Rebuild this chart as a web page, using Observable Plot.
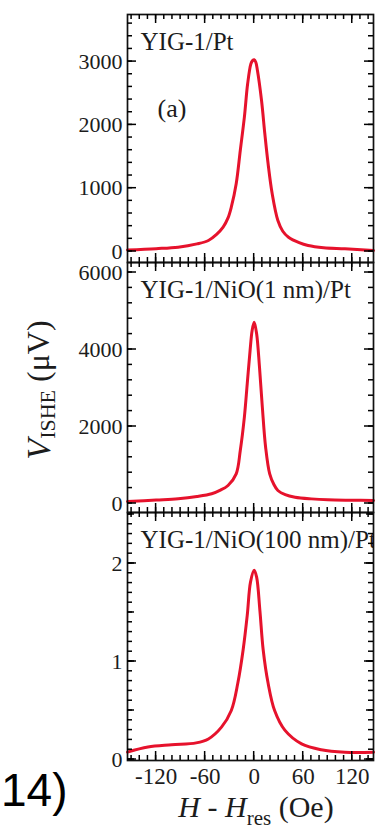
<!DOCTYPE html>
<html><head><meta charset="utf-8">
<script src="https://cdn.jsdelivr.net/npm/d3@7"></script>
<script src="https://cdn.jsdelivr.net/npm/@observablehq/plot@0.6"></script>
<style>
html,body{margin:0;padding:0;background:#fff;}
#chart{position:relative;width:376px;height:837px;overflow:hidden;background:#fff;}
#chart svg{position:absolute;left:0;overflow:visible;background:transparent;}
</style></head><body><div id="chart"></div>
<script>
// ---- data ----
const panelTitles = ["YIG-1/Pt", "YIG-1/NiO(1 nm)/Pt", "YIG-1/NiO(100 nm)/Pt"];
const panelLetter = "(a)";
const sideNote = "14)";

// panel 1: YIG-1/Pt, V_ISHE in µV
const fieldPt = [-155,-120,-93,-70,-56,-46,-38,-32,-28,-22,-17,-12,-8,-4,-2,0,2,4,9,13,17,22,29,35,42,55,66,85,111,146];
const vPt     = [25,45,68,120,174,270,384,530,700,1070,1596,2122,2649,2965,3015,3030,2990,2859,2385,1864,1390,916,490,320,226,140,95,60,43,16];

// panel 2: YIG-1/NiO(1 nm)/Pt, µV
const fieldNiO1 = [-155,-120,-93,-70,-52,-42,-32,-22,-17,-12,-8.5,-5,-2.5,0,3,6.5,10,14,19,24,29,38,50,70,90,120,146];
const vNiO1     = [52,90,122,180,252,340,468,771,1377,2242,3109,3974,4494,4710,4410,3540,2500,1462,771,500,338,230,164,120,96,85,78];

// panel 3: YIG-1/NiO(100 nm)/Pt, µV
const fieldNiO100 = [-155,-130,-101,-71,-56,-40,-28,-20,-13.5,-8.5,-4.5,0,3,7,11,17,25,37.5,58,82,111,146];
const vNiO100     = [0.075,0.127,0.15,0.17,0.21,0.33,0.5,0.78,1.12,1.47,1.81,1.93,1.86,1.52,1.12,0.78,0.5,0.30,0.16,0.10,0.075,0.075];

// ticks
const yTicksPt = [0, 1000, 2000, 3000];
const yTicksNiO1 = [0, 2000, 4000, 6000];
const yTicksNiO100 = [0, 1, 2];
const xTicks = [-120, -60, 0, 60, 120];
const xTickLabels = ["-120", "-60", "0", "60", "120"];

// axis titles
const xTitleParts = ["H", " - ", "H", "res", " (Oe)"];
const yTitleParts = ["V", "ISHE", " (μV)"];

// ---- layout / style ----
const W = 376;
const ML = 127, MR = 3;
const serif = "'Liberation Serif', 'Times New Roman', serif";
const red = "#e6122c";
const ink = "#1c1c1c";
const xDomain = [-155, 146];
const minorRange = (lo, hi, step) => d3.range(Math.ceil(lo / step) * step, hi + 1e-9, step);

function panel({field, values, yDomain, yTicks, title, letter, height, marginTop, marginBottom, xAxisLabels}) {
  const marks = [
    Plot.line(field.map((h, i) => ({h, v: values[i]})), {x: "h", y: "v", stroke: red, strokeWidth: 3, curve: "catmull-rom"}),
    Plot.frame({stroke: "#111", strokeWidth: 1.7}),
    Plot.axisY({anchor: "left", ticks: yTicks, tickSize: 0, tickPadding: 5, fontSize: 22, fill: ink, label: null, tickFormat: d => String(d)}),
    Plot.text([title], {text: d => d, frameAnchor: "top-left", dx: 13, dy: 27, textAnchor: "start", lineAnchor: "middle", fontSize: 25, fill: ink, clip: true})
  ];
  if (letter) marks.push(Plot.text([letter], {text: d => d, frameAnchor: "top-left", dx: 30, dy: 94, textAnchor: "start", lineAnchor: "middle", fontSize: 26, fill: ink}));
  if (xAxisLabels) marks.push(Plot.axisX({anchor: "bottom", ticks: xTicks, tickSize: 0, tickPadding: 7, fontSize: 23, fill: ink, label: null, tickFormat: d => xAxisLabels[xTicks.indexOf(d)]}));
  return Plot.plot({
    width: W, height, marginLeft: ML, marginRight: MR, marginTop, marginBottom,
    x: {domain: xDomain, axis: null},
    y: {domain: yDomain, axis: null},
    style: {fontFamily: serif, background: "transparent", overflow: "visible", color: ink},
    marks
  });
}

// inward ticks on all four frame sides, positioned with the plot's own scales
function addFrameTicks(svg, {yTicks, yMinorStep, yMidStep, yDomain, top, bottom}) {
  const sx = svg.scale("x"), sy = svg.scale("y");
  const X = v => sx.apply(v), Y = v => sy.apply(v);
  const left = ML, right = W - MR;
  const g = d3.select(svg).append("g").attr("stroke", "#000").attr("stroke-width", 1.5).attr("fill", "none");
  const yLevels = [
    [minorRange(yDomain[0], yDomain[1], yMinorStep), 5],
    [yMidStep ? minorRange(yDomain[0], yDomain[1], yMidStep) : [], 7],
    [yTicks, 9]
  ];
  for (const [vals, len] of yLevels) for (const v of vals) {
    const y = Y(v);
    if (y < top || y > bottom) continue;
    g.append("line").attr("x1", left).attr("x2", left + len).attr("y1", y).attr("y2", y);
    g.append("line").attr("x1", right).attr("x2", right - len).attr("y1", y).attr("y2", y);
  }
  const xLevels = [[minorRange(xDomain[0], xDomain[1], 10), 5], [xTicks, 9]];
  for (const [vals, len] of xLevels) for (const v of vals) {
    const x = X(v);
    g.append("line").attr("x1", x).attr("x2", x).attr("y1", top).attr("y2", top + len);
    g.append("line").attr("x1", x).attr("x2", x).attr("y1", bottom).attr("y2", bottom - len);
  }
}

const chart = document.getElementById("chart");

const cfg1 = {field: fieldPt, values: vPt, yDomain: [-174, 3744], yTicks: yTicksPt, yMinorStep: 200, title: panelTitles[0], letter: panelLetter, height: 262, marginTop: 14, marginBottom: 0};
const cfg2 = {field: fieldNiO1, values: vNiO1, yDomain: [-234, 6260], yTicks: yTicksNiO1, yMinorStep: 400, title: panelTitles[1], height: 250, marginTop: 0, marginBottom: 0};
const cfg3 = {field: fieldNiO100, values: vNiO100, yDomain: [-0.01, 2.52], yTicks: yTicksNiO100, yMinorStep: 0.1, yMidStep: 0.5, title: panelTitles[2], height: 325, marginTop: 0, marginBottom: 77, xAxisLabels: xTickLabels};

const plots = [[cfg1, 0], [cfg2, 262], [cfg3, 512]].map(([cfg, top]) => {
  const p = panel(cfg);
  p.style.top = top + "px";
  chart.append(p);
  addFrameTicks(p, {...cfg, top: cfg.marginTop, bottom: cfg.height - cfg.marginBottom});
  return p;
});
const [p1, p2, p3] = plots;

// y-axis title (rotated, with subscript) in the middle panel
const yt = d3.select(p2).append("text")
  .attr("transform", "translate(38,128) rotate(-90)")
  .attr("text-anchor", "middle")
  .attr("dominant-baseline", "central")
  .attr("fill", ink)
  .style("font-family", serif);
yt.append("tspan").attr("font-style", "italic").attr("font-size", 34).text(yTitleParts[0]);
yt.append("tspan").attr("font-size", 22).attr("dy", 9).text(yTitleParts[1]);
yt.append("tspan").attr("font-size", 32).attr("dy", -9).text(yTitleParts[2]);

// x-axis title under the bottom panel
const xt = d3.select(p3).append("text")
  .attr("x", 256).attr("y", 305)
  .attr("text-anchor", "middle")
  .attr("fill", ink)
  .style("font-family", serif);
xt.append("tspan").attr("font-style", "italic").attr("font-size", 30).text(xTitleParts[0]);
xt.append("tspan").attr("font-size", 30).text(xTitleParts[1]);
xt.append("tspan").attr("font-style", "italic").attr("font-size", 30).text(xTitleParts[2]);
xt.append("tspan").attr("font-size", 21).attr("dy", 8).text(xTitleParts[3]);
xt.append("tspan").attr("font-size", 30).attr("dy", -8).text(xTitleParts[4]);

// cropped caption fragment at the lower left
d3.select(p3).append("text")
  .attr("x", 1).attr("y", 294)
  .attr("text-anchor", "start")
  .attr("fill", "#000")
  .attr("font-size", 46)
  .style("font-family", "'Liberation Sans', Arial, sans-serif")
  .text(sideNote);
</script></body></html>
